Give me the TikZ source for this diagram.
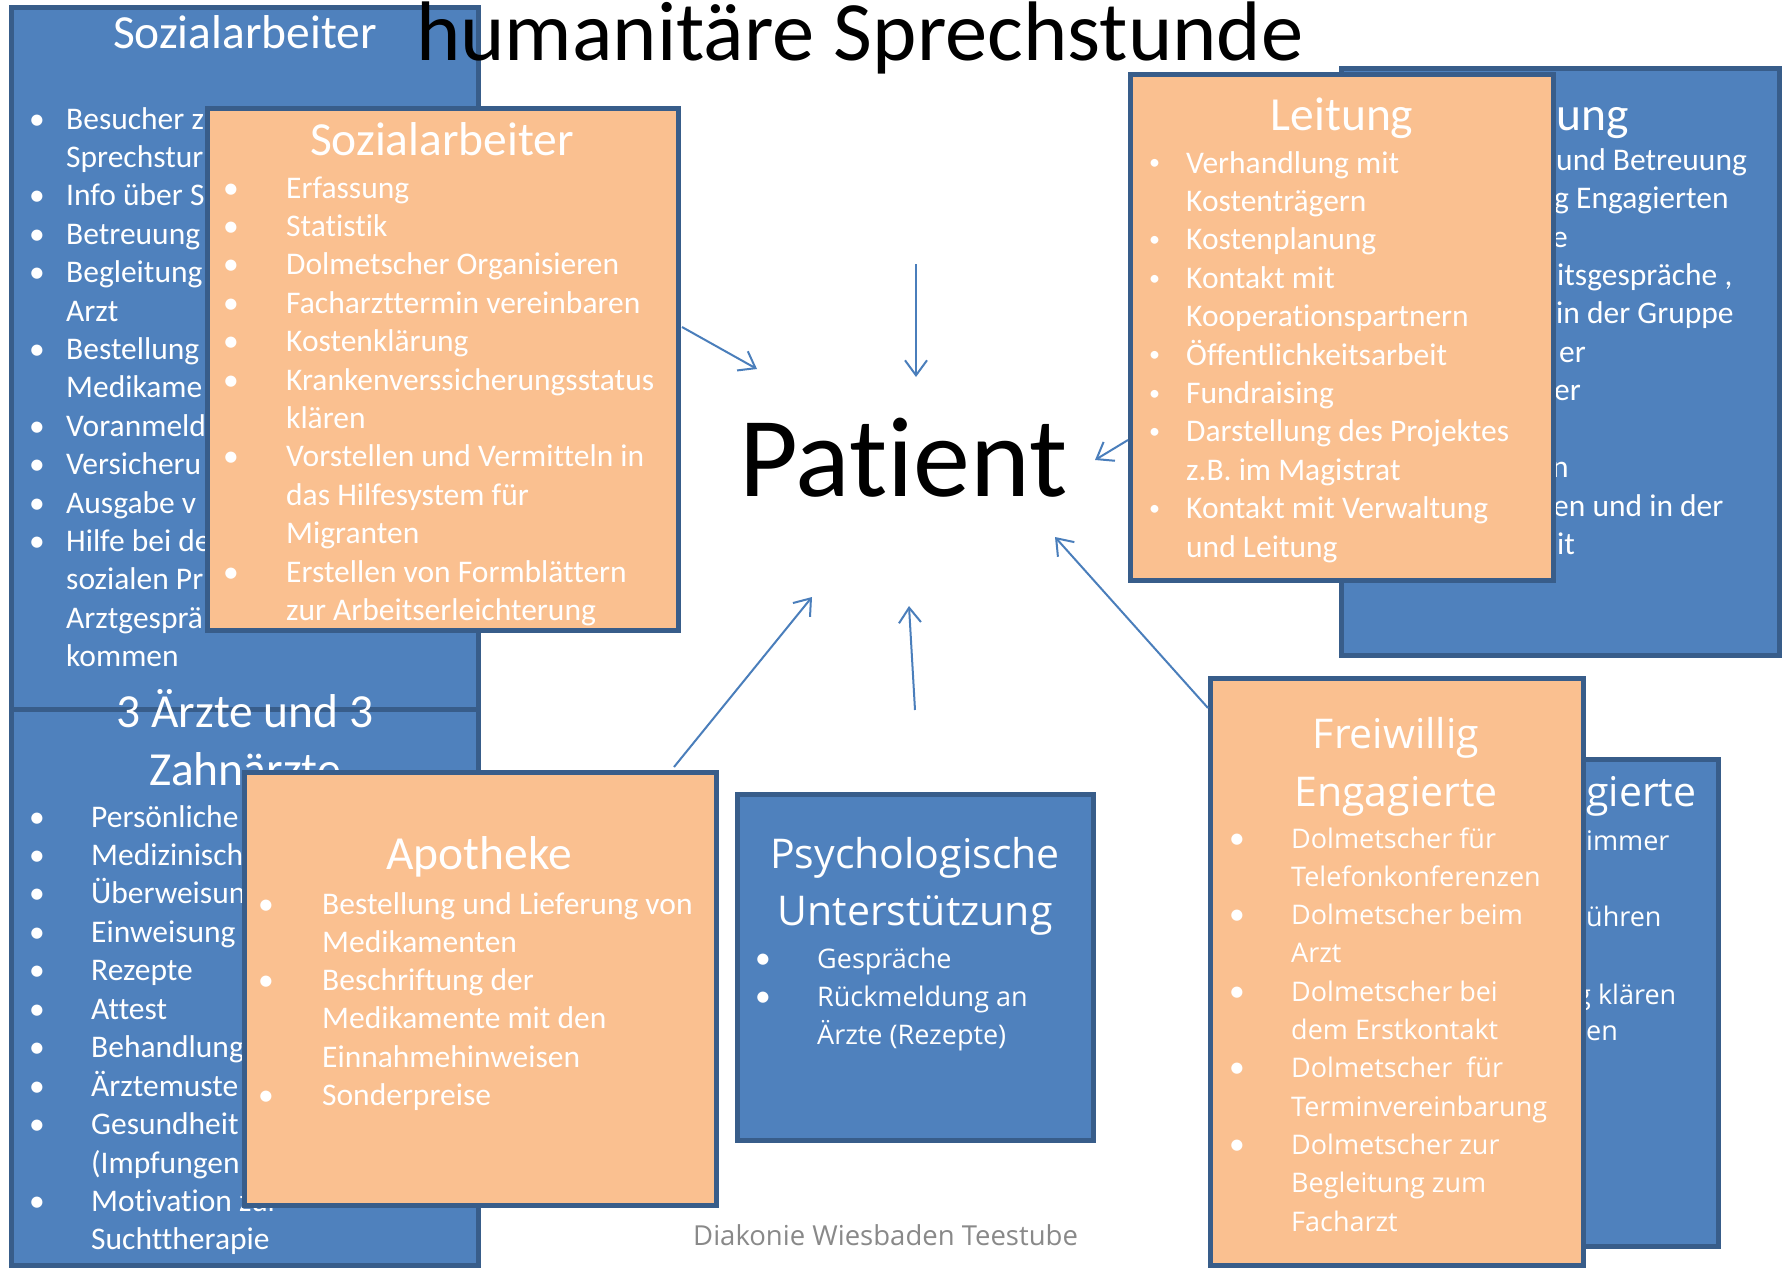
\documentclass[tikz,border=0pt]{standalone}
\usepackage{graphicx}
\usepackage{fontspec}
\setmainfont{Carlito}[Ligatures={NoCommon}]
\newfontfamily\seg{Open Sans}[Ligatures={NoCommon}]
\newfontfamily\bulf{Carlito}
\usetikzlibrary{arrows.meta}
\definecolor{bfill}{HTML}{4F81BD}
\definecolor{bline}{HTML}{385D8A}
\definecolor{ofill}{HTML}{FAC090}
\definecolor{arr}{HTML}{4A7EBB}
\definecolor{foot}{HTML}{898989}
\newlength\bw
\newcommand\bu{\makebox[\bw][l]{•}}
\newcommand\obu{\makebox[\bw][l]{\bulf\fontsize{31.5}{38}\selectfont •}}
\newcommand\sbu{\makebox[\bw][l]{\raisebox{0.1em}{\scalebox{0.7}{•}}}}
\newcommand\ct{\hspace*{\bw}}
\newcommand\mybox[6]{\node[#2, anchor=north west, minimum width={#5-#3-5}, minimum height={#6-#4-5}] (#1) at ({#3+2.5},{#4+2.5}) {};}
\newcommand\calb{\fontsize{31.5}{38.4}\selectfont}
\newcommand\calt{\fontsize{47.5}{57}\selectfont}
\newcommand\segb{\seg\fontsize{27}{38.3}\selectfont}
\newcommand\segt{\seg\fontsize{41}{57}\selectfont}
\begin{document}
\begin{tikzpicture}[x=1pt,y=-1pt,
  bluebox/.style={draw=bline, fill=bfill, line width=5pt, inner sep=0pt, outer sep=0pt},
  orbox/.style={draw=bline, fill=ofill, line width=5pt, inner sep=0pt, outer sep=0pt},
  txt/.style={inner sep=0pt, text=white, anchor=base west},
  ttl/.style={inner sep=0pt, text=white, anchor=base, font=\calt},
  sttl/.style={inner sep=0pt, text=white, anchor=base, font=\segt},
  conn/.style={draw=arr, line width=2pt, -{Straight Barb[length=15pt,width=22pt,line width=2pt]}}]
\useasboundingbox[fill=white] (0,0) rectangle (1789,1269);

% ---- left top: Sozialarbeiter (blue, back)
\mybox{A}{bluebox}{9}{5}{481}{712}
\node[ttl] (Atitle) at (245,48) {Sozialarbeiter};
\node[txt] (Atext) at (29,129) {\begin{minipage}[t]{500pt}\calb\setlength\bw{37pt}%
\bu Besucher z\\
\ct Sprechstur\\
\bu Info über S\\
\bu Betreuung\\
\bu Begleitung\\
\ct Arzt\\
\bu Bestellung\\
\ct Medikame\\
\bu Voranmeld\\
\bu Versicheru\\
\bu Ausgabe v\\
\bu Hilfe bei de\\
\ct sozialen Pr\\
\ct Arztgesprä\\
\ct kommen
\end{minipage}};

% ---- left bottom: Aerzte (blue)
\mybox{C}{bluebox}{9}{707}{481}{1268}
\node[ttl] (Ctitle1) at (245,727) {3 Ärzte und 3};
\node[ttl] (Ctitle2) at (245,785) {Zahnärzte};
\node[txt] (Ctext) at (29,827) {\begin{minipage}[t]{500pt}\fontsize{31.5}{38.45}\selectfont\setlength\bw{62pt}%
\bu Persönliche\\
\bu Medizinisch\\
\bu Überweisun\\
\bu Einweisung\\
\bu Rezepte\\
\bu Attest\\
\bu Behandlung\\
\bu Ärztemuste\\
\bu Gesundheit\\
\ct (Impfungen\\
\bu Motivation zur\\
\ct Suchttherapie
\end{minipage}};

% ---- Sozialarbeiter (orange, front)
\mybox{B}{orbox}{205}{106}{681}{633}
\node[ttl] (Btitle) at (442,155) {Sozialarbeiter};
\node[txt] (Btext) at (223,198) {\begin{minipage}[t]{500pt}\calb\setlength\bw{63pt}%
\bu Erfassung\\
\bu Statistik\\
\bu Dolmetscher Organisieren\\
\bu Facharzttermin vereinbaren\\
\bu Kostenklärung\\
\bu Krankenverssicherungsstatus\\
\ct klären\\
\bu Vorstellen und Vermitteln in\\
\ct das Hilfesystem für\\
\ct Migranten\\
\bu Erstellen von Formblättern\\
\ct zur Arbeitserleichterung
\end{minipage}};

% ---- Apotheke (orange)
\mybox{D}{orbox}{242}{770}{719}{1208}
\node[ttl] (Dtitle) at (479,869) {Apotheke};
\node[txt] (Dtext) at (258,914) {\begin{minipage}[t]{500pt}\fontsize{31.5}{38.3}\selectfont\setlength\bw{64pt}%
\bu Bestellung und Lieferung von\\
\ct Medikamenten\\
\bu Beschriftung der\\
\ct Medikamente mit den\\
\ct Einnahmehinweisen\\
\bu Sonderpreise
\end{minipage}};

% ---- main title
\node[inner sep=0pt, anchor=base west, font=\fontsize{84.5}{90}\selectfont] (title) at (416,60) {humanitäre Sprechstunde};

% ---- Leitung (blue, back)
\mybox{F}{bluebox}{1339}{66}{1782}{658}
\node[txt, font=\calt] (f0) at (1556,130) {ung};
\node[txt, font=\calb] (f1) at (1556,170) {und Betreuung};
\node[txt, font=\calb] (f2) at (1554,208) {g Engagierten};
\node[txt, font=\calb] (f3) at (1552,247) {e};
\node[txt, font=\calb] (f4) at (1557,285) {itsgespräche ,};
\node[txt, font=\calb] (f5) at (1556,323) {in der Gruppe};
\node[txt, font=\calb] (f6) at (1559,362) {er};
\node[txt, font=\calb] (f7) at (1554,400) {er};
\node[txt, font=\calb] (f8) at (1552,477) {n};
\node[txt, font=\calb] (f9) at (1553,516) {en und in der};
\node[txt, font=\calb] (f10) at (1557,554) {it};

% ---- Leitung (orange)
\mybox{L}{orbox}{1128}{72}{1556}{583}
\node[ttl] (Ltitle) at (1342,130) {Leitung};
\node[txt] (Ltext) at (1149,173) {\begin{minipage}[t]{500pt}\calb\setlength\bw{37pt}%
\sbu Verhandlung mit\\
\ct Kostenträgern\\
\sbu Kostenplanung\\
\sbu Kontakt mit\\
\ct Kooperationspartnern\\
\sbu Öffentlichkeitsarbeit\\
\sbu Fundraising\\
\sbu Darstellung des Projektes\\
\ct z.B. im Magistrat\\
\sbu Kontakt mit Verwaltung\\
\ct und Leitung
\end{minipage}};

% ---- Freiwillig Engagierte (blue, back)
\mybox{G}{bluebox}{1370}{757}{1721}{1249}
\node[txt, font=\segt] (g0) at (1586,806) {gierte};
\node[txt, font=\segb] (g1) at (1586,850) {immer};
\node[txt, font=\segb] (g2) at (1586,926) {ühren};
\node[txt, font=\segb] (g3) at (1576,1004) {g klären};
\node[txt, font=\segb] (g4) at (1586,1040) {en};

% ---- Freiwillig Engagierte (orange)
\mybox{H}{orbox}{1208}{676}{1586}{1268}
\node[sttl] (Htitle1) at (1396,748) {Freiwillig};
\node[sttl] (Htitle2) at (1396,806) {Engagierte};
\node[txt] (Htext) at (1229,848) {\begin{minipage}[t]{500pt}\segb\setlength\bw{62pt}%
\obu Dolmetscher für\\
\ct Telefonkonferenzen\\
\obu Dolmetscher beim\\
\ct Arzt\\
\obu Dolmetscher bei\\
\ct dem Erstkontakt\\
\obu Dolmetscher~ für\\
\ct Terminvereinbarung\\
\obu Dolmetscher zur\\
\ct Begleitung zum\\
\ct Facharzt
\end{minipage}};

% ---- Psychologische Unterstuetzung (blue)
\mybox{P}{bluebox}{735}{792}{1096}{1143}
\node[sttl] (Ptitle1) at (915,868) {Psychologische};
\node[sttl] (Ptitle2) at (915,925) {Unterstützung};
\node[txt] (Ptext) at (755,968) {\begin{minipage}[t]{500pt}\segb\setlength\bw{62pt}%
\obu Gespräche\\
\obu Rückmeldung an\\
\ct Ärzte (Rezepte)
\end{minipage}};

% ---- centre and footer
\node[inner sep=0pt, anchor=base west, font=\fontsize{114}{130}\selectfont] (pat) at (739,496) {Patient};
\node[inner sep=0pt, anchor=base west, text=foot, font=\seg\fontsize{27.5}{33}\selectfont] (foot) at (693,1245) {Diakonie Wiesbaden Teestube};

% ---- arrows
\coordinate (aS) at (682,327); \coordinate (aE) at (757,369);
\coordinate (bS) at (916,264); \coordinate (bE) at (916,377);
\coordinate (cS) at (1128,440); \coordinate (cE) at (1095,460);
\coordinate (dS) at (1208,708); \coordinate (dE) at (1055,537);
\coordinate (eS) at (915,710); \coordinate (eE) at (909,606);
\coordinate (fS) at (674,767); \coordinate (fE) at (812,597);
\draw[conn] (aS) -- (aE);
\draw[conn] (bS) -- (bE);
\draw[conn] (cS) -- (cE);
\draw[conn] (dS) -- (dE);
\draw[conn] (eS) -- (eE);
\draw[conn] (fS) -- (fE);
\end{tikzpicture}
\end{document}
